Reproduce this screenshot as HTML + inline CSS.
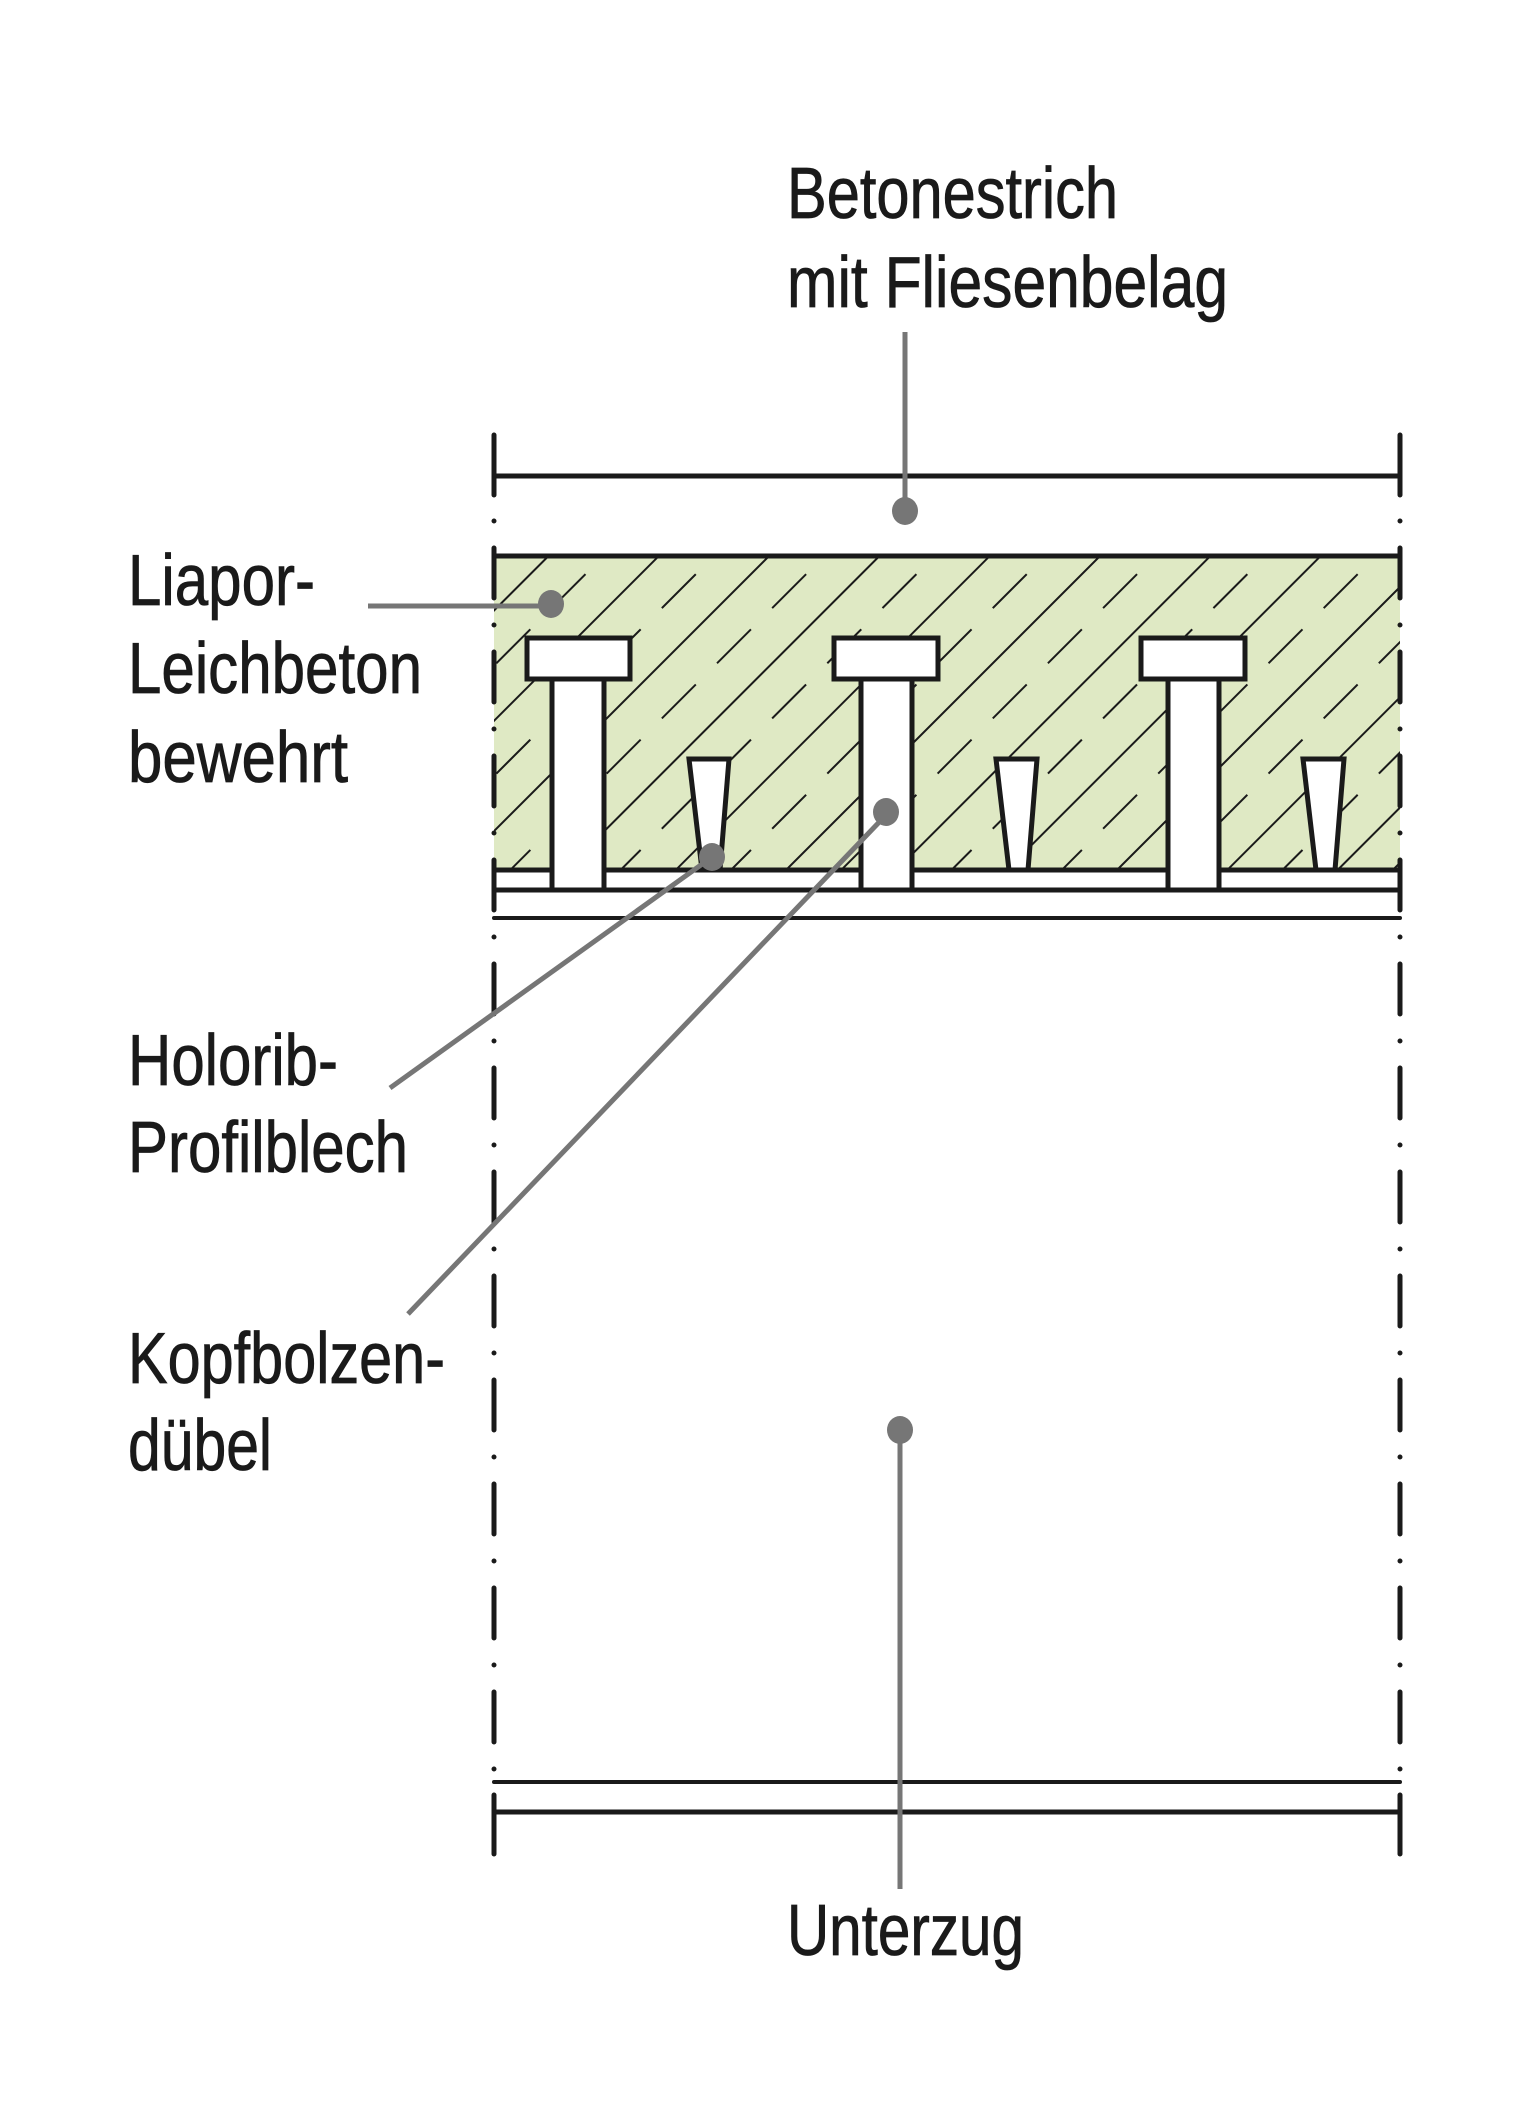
<!DOCTYPE html>
<html><head><meta charset="utf-8"><style>
html,body{margin:0;padding:0;background:#fff;}
svg{display:block;}
text{font-family:"Liberation Sans",sans-serif;font-size:72px;fill:#1a1a1a;stroke:#1a1a1a;stroke-width:0.8px;}
</style></head><body>
<svg width="1535" height="2125" viewBox="0 0 1535 2125" xmlns="http://www.w3.org/2000/svg">
<defs>
<pattern id="h" patternUnits="userSpaceOnUse" width="78" height="78" patternTransform="rotate(45)">
<line x1="1" y1="0" x2="1" y2="78" stroke="#1a1a1a" stroke-width="2"/>
<line x1="40" y1="0" x2="40" y2="78" stroke="#1a1a1a" stroke-width="2" stroke-dasharray="40 30"/>
</pattern>
</defs>
<rect x="494" y="556" width="906" height="314" fill="#dfe9c4"/>
<rect x="494" y="556" width="906" height="314" fill="url(#h)"/>
<g stroke="#1a1a1a" stroke-width="5" fill="none" stroke-linecap="round">
<line x1="494" y1="556" x2="1400" y2="556"/>
<line x1="494" y1="870" x2="1400" y2="870"/>
<line x1="494" y1="890" x2="1400" y2="890"/>
<line x1="494" y1="918" x2="1400" y2="918" stroke-width="4"/>
<line x1="494" y1="476" x2="1400" y2="476"/>
<line x1="494" y1="435" x2="494" y2="495"/>
<line x1="1400" y1="435" x2="1400" y2="495"/>
<line x1="494" y1="1782" x2="1400" y2="1782" stroke-width="4"/>
<line x1="494" y1="1812" x2="1400" y2="1812"/>
<line x1="494" y1="1795" x2="494" y2="1854"/>
<line x1="1400" y1="1795" x2="1400" y2="1854"/>
<line x1="494" y1="444" x2="494" y2="1775" stroke-dasharray="50 27 0 27"/>
<line x1="1400" y1="444" x2="1400" y2="1775" stroke-dasharray="50 27 0 27"/>
</g>
<g stroke="#1a1a1a" stroke-width="5" fill="#fff">
<rect x="552" y="679" width="52" height="211"/>
<rect x="527" y="638" width="103" height="41"/>
<rect x="861" y="679" width="51" height="211"/>
<rect x="834" y="638" width="104" height="41"/>
<rect x="1168" y="679" width="51" height="211"/>
<rect x="1141" y="638" width="104" height="41"/>
<polygon points="689,759 729,759 720,870 702,870"/>
<polygon points="996,759 1037,759 1028,870 1009,870"/>
<polygon points="1303,759 1344,759 1335,870 1316,870"/>
</g>
<g stroke="#767676" stroke-width="5" fill="none">
<line x1="905" y1="332" x2="905" y2="511"/>
<line x1="368" y1="606" x2="551" y2="606"/>
<line x1="390" y1="1088" x2="712" y2="857"/>
<line x1="408" y1="1314" x2="886" y2="815"/>
<line x1="900" y1="1430" x2="900" y2="1889"/>
</g>
<g fill="#767676">
<ellipse cx="905" cy="511" rx="13" ry="14"/>
<ellipse cx="551" cy="604" rx="13" ry="14"/>
<ellipse cx="712" cy="857" rx="13" ry="14"/>
<ellipse cx="886" cy="812" rx="13" ry="14"/>
<ellipse cx="900" cy="1430" rx="13" ry="14"/>
</g>
<text x="787" y="218" textLength="331" lengthAdjust="spacingAndGlyphs">Betonestrich</text>
<text x="787" y="307" textLength="441" lengthAdjust="spacingAndGlyphs">mit Fliesenbelag</text>
<text x="128" y="605" textLength="187" lengthAdjust="spacingAndGlyphs">Liapor-</text>
<text x="128" y="693" textLength="294" lengthAdjust="spacingAndGlyphs">Leichbeton</text>
<text x="128" y="782" textLength="220" lengthAdjust="spacingAndGlyphs">bewehrt</text>
<text x="128" y="1085" textLength="210" lengthAdjust="spacingAndGlyphs">Holorib-</text>
<text x="128" y="1172" textLength="280" lengthAdjust="spacingAndGlyphs">Profilblech</text>
<text x="128" y="1383" textLength="317" lengthAdjust="spacingAndGlyphs">Kopfbolzen-</text>
<text x="128" y="1470" textLength="144" lengthAdjust="spacingAndGlyphs">dübel</text>
<text x="787" y="1955" textLength="237" lengthAdjust="spacingAndGlyphs">Unterzug</text>
</svg>
</body></html>
